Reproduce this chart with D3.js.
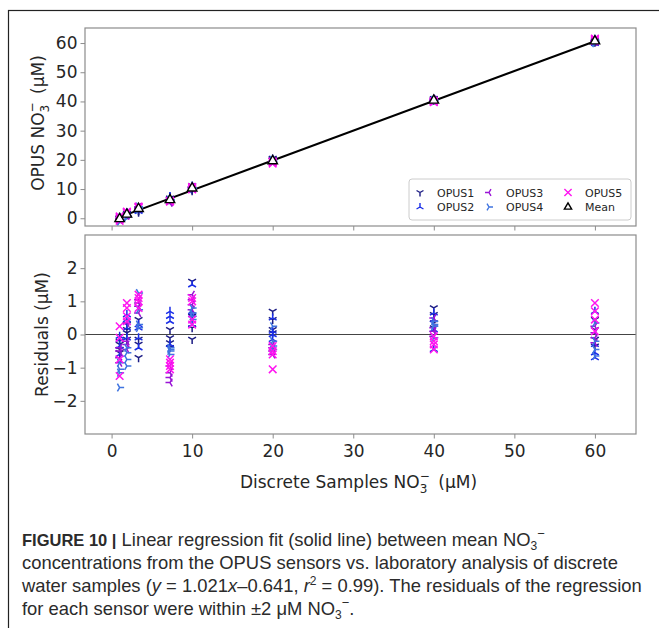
<!DOCTYPE html>
<html lang="en">
<head>
  <meta charset="utf-8">
  <title>OPUS nitrate regression</title>
  <script src="https://cdn.jsdelivr.net/npm/d3@7"></script>
  <style>
    body { margin: 0; background: #fff; }
    .tick text { font-family: "DejaVu Sans", sans-serif; font-size: 17px; fill: #262626; }
    .tick line { stroke: #8c8c8c; }
    .caption { font-family: "Liberation Sans", Arial, sans-serif; font-size: 18.4px; fill: #2b2b2b; }
  </style>
</head>
<body>
  <div id="chart"></div>
  <script>
    // discrete sample concentrations (µM)
    var levels = [1.0, 1.9, 3.35, 7.25, 10.0, 20.0, 40.0, 60.0];
    // regression from the caption
    var fitSlope = 1.021, fitIntercept = -0.641;

    // residuals per sensor, 4 replicates per level
    var opus1 = [[-0.3, -0.45, -0.55, -0.2], [0.15, 0.05, -0.15, 0.3], [0.45, -0.15, -0.3, -0.7], [0.15, -0.1, -0.25, -0.4],
                 [1.6, 0.2, -0.15, 0.55], [0.7, 0.45, 0.15, 0.05], [0.8, 0.6, 0.35, 0.2], [0.45, 0.15, -0.15, -0.35]];
    var opus2 = [[-0.15, -0.35, -0.6, -0.05], [0.6, 0.45, 0.2, -0.1], [0.2, -0.1, -0.4, 0.3], [0.7, 0.55, 0.4, -0.3],
                 [1.5, 0.7, 0.6, 0.3], [0.5, 0.1, -0.15, 0.0], [0.65, 0.15, -0.45, 0.45], [0.7, -0.55, -0.7, -0.3]];
    var opus3 = [[-0.5, -0.7, -0.4, -0.85], [-0.3, -0.45, 0.35, -0.2], [1.05, 0.85, 0.65, 0.95], [-1.3, -1.45, -1.15, -0.95],
                 [1.2, 0.9, 0.75, 1.05], [-0.4, -0.5, -0.3, -0.6], [0.5, 0.1, -0.05, 0.2], [0.25, 0.05, -0.1, -0.25]];
    var opus4 = [[-0.85, -1.05, -1.6, -1.15], [-0.55, -0.75, -0.95, -0.4], [1.25, 0.3, 0.2, 0.75], [-0.45, -0.6, -0.4, -0.5],
                 [0.65, 0.55, 0.45, 0.8], [0.25, -0.2, -0.35, -0.45], [0.4, 0.3, 0.25, -0.1], [0.35, -0.2, -0.45, -0.65]];
    var opus5 = [[0.25, -0.1, -0.75, -1.25], [0.95, 0.8, 0.4, 0.55], [1.2, 1.1, 1.0, 0.8], [-0.75, -0.85, -0.95, -1.05],
                 [1.1, 1.0, 0.45, 0.3], [-0.35, -0.5, -0.6, -1.05], [-0.05, -0.2, -0.3, -0.45], [0.95, 0.7, 0.45, 0.1]];

    var sensorNames = ["OPUS1", "OPUS2", "OPUS3", "OPUS4", "OPUS5"];
    var sensorColors = ["#1c1c84", "#1a2ee8", "#9a14d6", "#3f74e0", "#ff14f0"];
    var sensorMarkers = ["tri_down", "tri_up", "tri_left", "tri_right", "x"];
    var sensorData = [opus1, opus2, opus3, opus4, opus5];

    var xTicks = [0, 10, 20, 30, 40, 50, 60];
    var yTopTicks = [0, 10, 20, 30, 40, 50, 60];
    var yBotTicks = [-2, -1, 0, 1, 2];

    var width = 659, height = 628;
    var left = 85, plotW = 551;
    var topY = 28, topH = 198;
    var botY = 235, botH = 199;

    var svg = d3.select('#chart').append('svg')
      .attr('width', width).attr('height', height);

    svg.append('rect').attr('width', width).attr('height', height).attr('fill', '#fff');
    // figure frame (cut off on right and bottom)
    svg.append('rect')
      .attr('x', 8.5).attr('y', 10.5).attr('width', 700).attr('height', 700)
      .attr('fill', 'none').attr('stroke', '#222').attr('stroke-width', 1.2);

    var x = d3.scaleLinear().domain([-3.3, 65.1]).range([0, plotW]);
    var yTop = d3.scaleLinear().domain([-2.65, 65.15]).range([topH, 0]);
    var yBot = d3.scaleLinear().domain([-3, 3]).range([botH, 0]);

    function fit(v) { return fitSlope * v + fitIntercept; }

    // marker shapes like matplotlib's 1,2,3,4,x,^
    function markerPath(type, r) {
      var c = 0.866 * r, s = 0.5 * r;
      switch (type) {
        case 'tri_down': return 'M0,0L0,' + r + 'M0,0L' + (-c) + ',' + (-s) + 'M0,0L' + c + ',' + (-s);
        case 'tri_up': return 'M0,0L0,' + (-r) + 'M0,0L' + (-c) + ',' + s + 'M0,0L' + c + ',' + s;
        case 'tri_left': return 'M0,0L' + (-r) + ',0M0,0L' + s + ',' + (-c) + 'M0,0L' + s + ',' + c;
        case 'tri_right': return 'M0,0L' + r + ',0M0,0L' + (-s) + ',' + (-c) + 'M0,0L' + (-s) + ',' + c;
        case 'x': return 'M' + (-r) + ',' + (-r) + 'L' + r + ',' + r + 'M' + (-r) + ',' + r + 'L' + r + ',' + (-r);
        case 'tri_open': return 'M0,' + (-r) + 'L' + c + ',' + s + 'L' + (-c) + ',' + s + 'Z';
      }
    }
    function markerSize(type) {
      return type === 'x' ? 3.8 : (type === 'tri_open' ? 5.5 : 4.5);
    }

    function points(k) {
      var pts = [];
      sensorData[k].forEach(function (reps, i) {
        reps.forEach(function (r) { pts.push({ x: levels[i], r: r }); });
      });
      return pts;
    }

    function styleAxis(g) {
      g.select('.domain').remove();
      g.selectAll('.tick line').attr('stroke', '#8c8c8c').attr('stroke-width', 1);
    }

    function nitrateLabel(t, before) {
      t.append('tspan').text(before + 'NO');
      t.append('tspan').attr('dy', 4.5).style('font-size', '12px').text('3');
      t.append('tspan').attr('dx', -7.6).attr('dy', -13).style('font-size', '12px').text('\u2212');
      t.append('tspan').attr('dy', 8.5).text('\u2002(\u03bcM)');
    }

    // ---------- top panel ----------
    var gTop = svg.append('g').attr('transform', 'translate(' + left + ',' + topY + ')');

    gTop.append('g').attr('transform', 'translate(0,' + topH + ')')
      .call(d3.axisBottom(x).tickValues(xTicks).tickSize(4.5).tickFormat(''))
      .call(styleAxis);
    gTop.append('g')
      .call(d3.axisLeft(yTop).tickValues(yTopTicks).tickSize(4.5).tickPadding(3))
      .call(styleAxis);

    var fitLine = d3.line().x(function (d) { return x(d); }).y(function (d) { return yTop(fit(d)); });
    gTop.append('path')
      .datum([levels[0], levels[levels.length - 1]])
      .attr('d', fitLine)
      .attr('fill', 'none').attr('stroke', '#000').attr('stroke-width', 2);

    sensorNames.forEach(function (name, k) {
      gTop.append('g').selectAll('path').data(points(k)).enter().append('path')
        .attr('transform', function (d) { return 'translate(' + x(d.x) + ',' + yTop(fit(d.x) + d.r) + ')'; })
        .attr('d', markerPath(sensorMarkers[k], markerSize(sensorMarkers[k])))
        .attr('fill', 'none').attr('stroke', sensorColors[k]).attr('stroke-width', 1.5);
    });

    // mean of all sensors at each level
    var means = levels.map(function (lv, i) {
      var all = [];
      sensorData.forEach(function (sd) { all = all.concat(sd[i]); });
      return { x: lv, y: fit(lv) + d3.mean(all) };
    });
    gTop.append('g').selectAll('path').data(means).enter().append('path')
      .attr('transform', function (d) { return 'translate(' + x(d.x) + ',' + yTop(d.y) + ')'; })
      .attr('d', markerPath('tri_open', markerSize('tri_open')))
      .attr('fill', '#fff').attr('stroke', '#000').attr('stroke-width', 1.4);

    gTop.append('rect').attr('width', plotW).attr('height', topH)
      .attr('fill', 'none').attr('stroke', '#8c8c8c').attr('stroke-width', 1.2);

    // legend
    var legend = gTop.append('g').attr('transform', 'translate(' + (409 - left) + ',' + (179 - topY) + ')');
    legend.append('rect').attr('width', 222).attr('height', 41).attr('rx', 3)
      .attr('fill', '#fff').attr('stroke', '#cccccc').attr('stroke-width', 1);
    var legendItems = sensorNames.map(function (n, k) {
      return { name: n, marker: sensorMarkers[k], color: sensorColors[k] };
    }).concat([{ name: 'Mean', marker: 'tri_open', color: '#000' }]);
    var colX = [11, 80, 159];
    legendItems.forEach(function (it, i) {
      var col = Math.floor(i / 2), row = i % 2;
      var lg = legend.append('g').attr('transform', 'translate(' + colX[col] + ',' + (13.5 + row * 14.5) + ')');
      lg.append('path').attr('d', markerPath(it.marker, it.marker === 'tri_open' ? 4.2 : (it.marker === 'x' ? 3.6 : 4)))
        .attr('fill', 'none').attr('stroke', it.color).attr('stroke-width', 1.4);
      lg.append('text').attr('x', 17).attr('y', 4)
        .style('font-family', '"DejaVu Sans", sans-serif').style('font-size', '11px').style('fill', '#262626')
        .text(it.name);
    });

    // y label top
    var yl1 = svg.append('text')
      .attr('transform', 'translate(44,' + (topY + topH / 2 - 4) + ') rotate(-90)')
      .attr('text-anchor', 'middle')
      .style('font-family', '"DejaVu Sans", sans-serif').style('font-size', '17px').style('fill', '#262626');
    nitrateLabel(yl1, 'OPUS ');

    // ---------- bottom panel ----------
    var gBot = svg.append('g').attr('transform', 'translate(' + left + ',' + botY + ')');

    gBot.append('g').attr('transform', 'translate(0,' + botH + ')')
      .call(d3.axisBottom(x).tickValues(xTicks).tickSize(4.5).tickPadding(6))
      .call(styleAxis);
    gBot.append('g')
      .call(d3.axisLeft(yBot).tickValues(yBotTicks).tickSize(4.5).tickPadding(3)
        .tickFormat(function (d) { return d < 0 ? '\u2212' + Math.abs(d) : d; }))
      .call(styleAxis);

    gBot.append('line')
      .attr('x1', 0).attr('x2', plotW).attr('y1', yBot(0)).attr('y2', yBot(0))
      .attr('stroke', '#444').attr('stroke-width', 1);

    sensorNames.forEach(function (name, k) {
      gBot.append('g').selectAll('path').data(points(k)).enter().append('path')
        .attr('transform', function (d) { return 'translate(' + x(d.x) + ',' + yBot(d.r) + ')'; })
        .attr('d', markerPath(sensorMarkers[k], markerSize(sensorMarkers[k])))
        .attr('fill', 'none').attr('stroke', sensorColors[k]).attr('stroke-width', 1.5);
    });

    gBot.append('rect').attr('width', plotW).attr('height', botH)
      .attr('fill', 'none').attr('stroke', '#8c8c8c').attr('stroke-width', 1.2);

    svg.append('text')
      .attr('transform', 'translate(48,' + (botY + botH / 2) + ') rotate(-90)')
      .attr('text-anchor', 'middle')
      .style('font-family', '"DejaVu Sans", sans-serif').style('font-size', '17px').style('fill', '#262626')
      .text('Residuals (\u03bcM)');

    var xl = svg.append('text')
      .attr('x', left + plotW / 2 - 2).attr('y', 488)
      .attr('text-anchor', 'middle')
      .style('font-family', '"DejaVu Sans", sans-serif').style('font-size', '17px').style('fill', '#262626');
    nitrateLabel(xl, 'Discrete Samples ');

    // ---------- caption ----------
    var cap = svg.append('g');
    var capX = 22, capY = [546, 569, 592, 615];

    var l1 = cap.append('text').attr('class', 'caption').attr('x', capX).attr('y', capY[0]);
    l1.append('tspan').style('font-weight', 'bold').style('font-size', '16.5px').text('FIGURE 10 |');
    l1.append('tspan').text(' Linear regression fit (solid line) between mean NO');
    l1.append('tspan').attr('dy', 4).style('font-size', '12px').text('3');
    l1.append('tspan').attr('dy', -12).style('font-size', '13px').text('\u2212');

    cap.append('text').attr('class', 'caption').attr('x', capX).attr('y', capY[1])
      .text('concentrations from the OPUS sensors vs. laboratory analysis of discrete');

    var l3 = cap.append('text').attr('class', 'caption').attr('x', capX).attr('y', capY[2]);
    l3.append('tspan').text('water samples (');
    l3.append('tspan').style('font-style', 'italic').text('y');
    l3.append('tspan').text(' = 1.021');
    l3.append('tspan').style('font-style', 'italic').text('x');
    l3.append('tspan').text('\u20130.641, ');
    l3.append('tspan').style('font-style', 'italic').text('r');
    l3.append('tspan').attr('dy', -7).style('font-size', '12px').text('2');
    l3.append('tspan').attr('dy', 7).text(' = 0.99). The residuals of the regression');

    var l4 = cap.append('text').attr('class', 'caption').attr('x', capX).attr('y', capY[3]);
    l4.append('tspan').text('for each sensor were within \u00b12 \u03bcM NO');
    l4.append('tspan').attr('dy', 4).style('font-size', '12px').text('3');
    l4.append('tspan').attr('dy', -12).style('font-size', '13px').text('\u2212');
    l4.append('tspan').attr('dy', 8).text('.');
  </script>
</body>
</html>
